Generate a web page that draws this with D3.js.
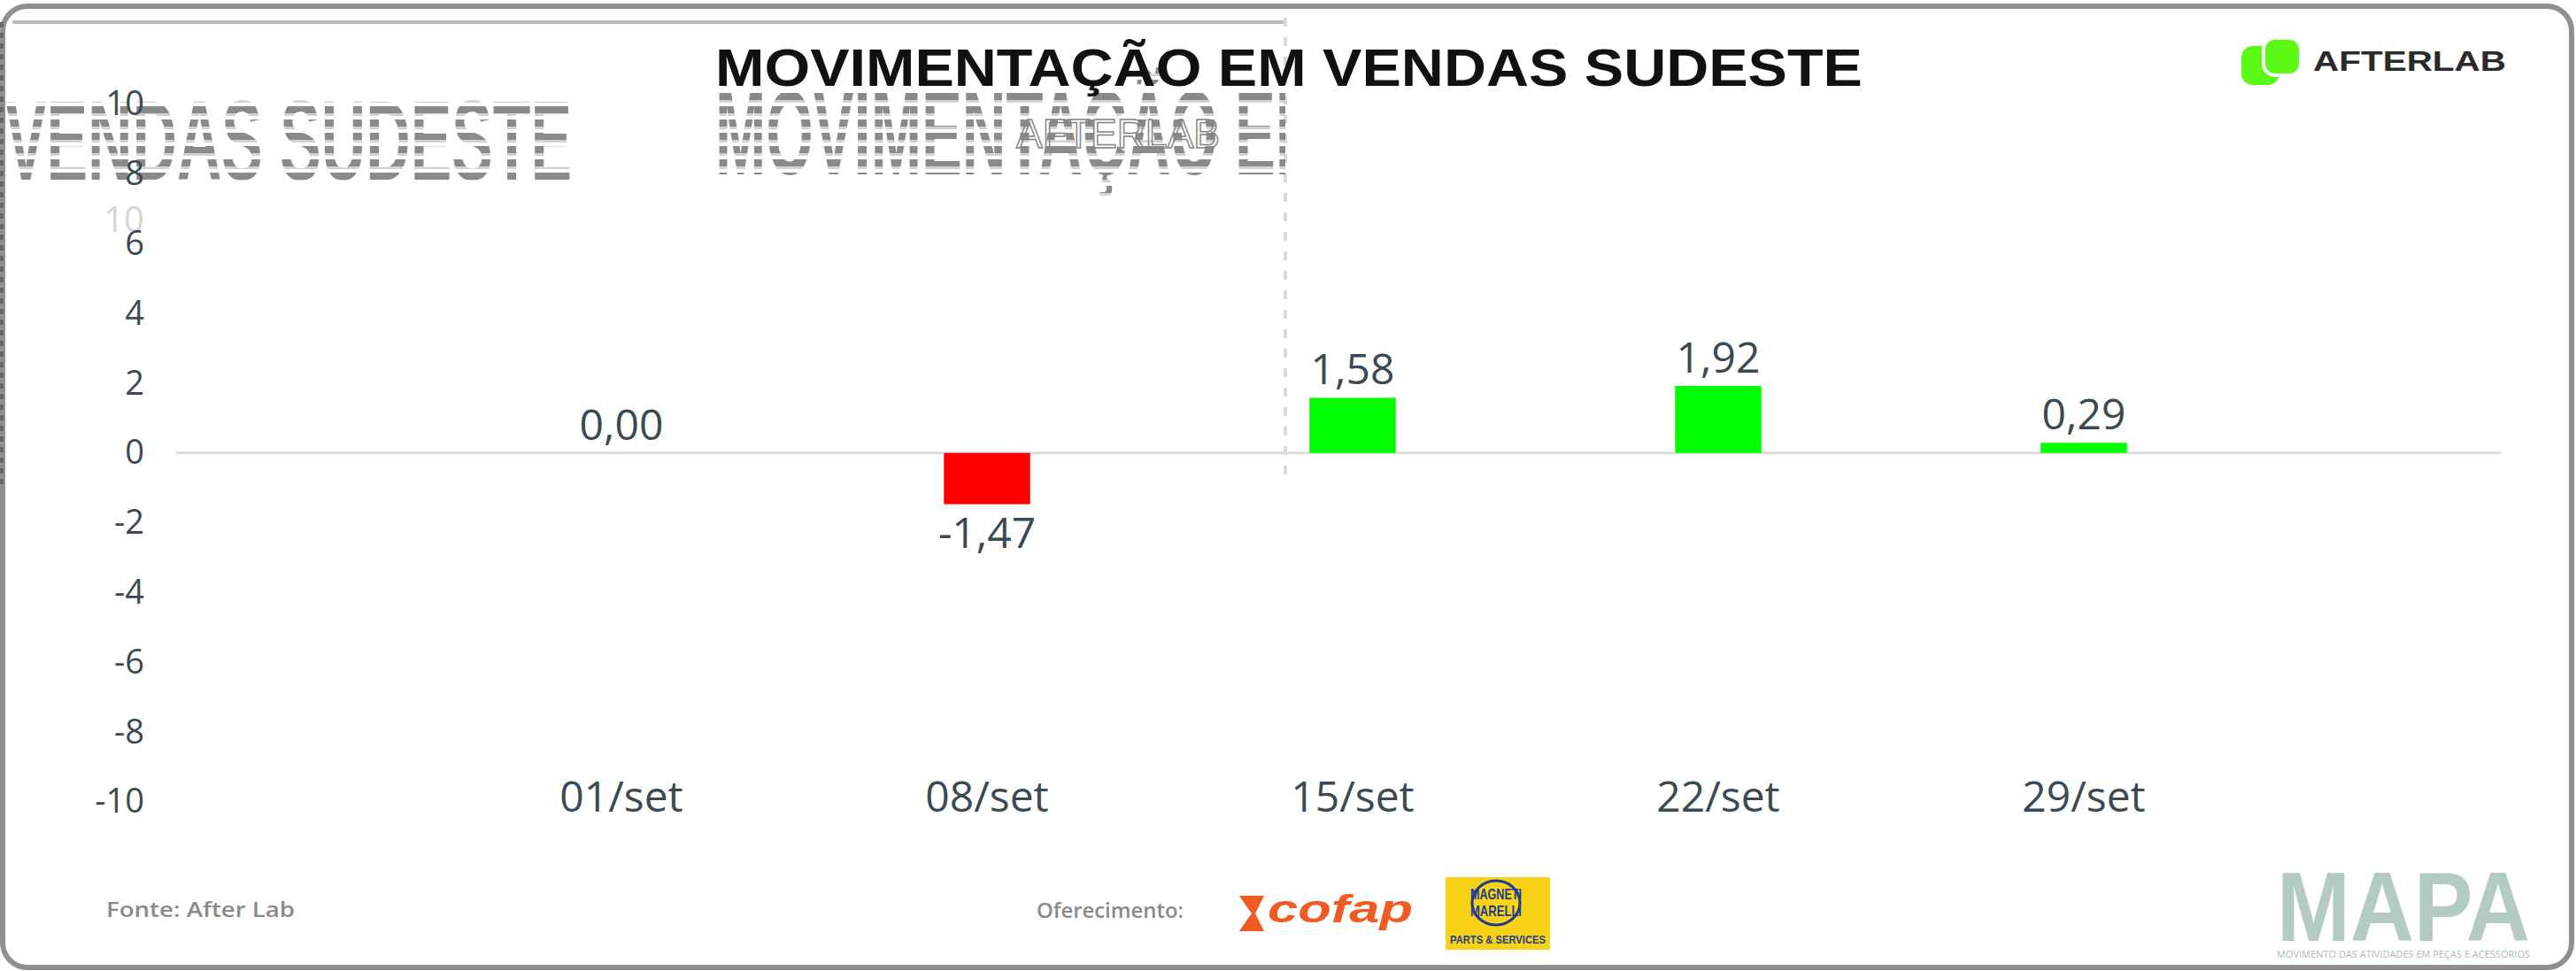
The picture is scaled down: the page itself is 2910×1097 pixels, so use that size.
<!DOCTYPE html>
<meta charset="utf-8">
<head>
  <title>Movimentação em vendas Sudeste</title>
  <script src="https://cdn.jsdelivr.net/npm/d3@7"></script>
  <style>
    body { margin: 0; background: #fff; }
    svg { display: block; }
    text { font-family: "Open Sans", sans-serif; }
  </style>
</head>
<body>
<svg width="2910" height="1097"></svg>
<script>

  // dados
  var semanas = ["01/set", "08/set", "15/set", "22/set", "29/set"];
  var variacao = [0.00, -1.47, 1.58, 1.92, 0.29];
  var yTicks = [-10, -8, -6, -4, -2, 0, 2, 4, 6, 8, 10];

  var titulo = "MOVIMENTAÇÃO EM VENDAS SUDESTE";
  var fonte = "Fonte: After Lab";

  var txtCor = "#3b4a51";

  var svg = d3.select("svg");

  var br = d3.formatLocale({decimal: ",", thousands: ".", grouping: [3], currency: ["R$", ""], minus: "-"});
  var fmt = br.format(".2f");

  // listras para o "fantasma" do título
  var defs = svg.append("defs");
  var pat = defs.append("pattern")
    .attr("id", "listras")
    .attr("patternUnits", "userSpaceOnUse")
    .attr("width", 10).attr("height", 15);
  pat.append("rect").attr("width", 10).attr("height", 8).attr("fill", "#6e6e6e");
  pat.append("rect").attr("y", 8).attr("width", 10).attr("height", 3).attr("fill", "#c8c8c8");

  defs.append("clipPath").attr("id", "caixa")
    .append("rect").attr("x", 0).attr("y", 20).attr("width", 1452).attr("height", 527);

  // moldura
  svg.append("rect")
    .attr("x", 3).attr("y", 7)
    .attr("width", 2902).attr("height", 1086)
    .attr("rx", 28)
    .attr("fill", "none")
    .attr("stroke", "#8f8f8f")
    .attr("stroke-width", 6);

  svg.append("line")
    .attr("x1", 14).attr("x2", 1452).attr("y1", 25).attr("y2", 25)
    .attr("stroke", "#bdbdbd").attr("stroke-width", 4);

  svg.append("line")
    .attr("x1", 2).attr("x2", 2).attr("y1", 25).attr("y2", 547)
    .attr("stroke", "#666").attr("stroke-width", 4)
    .attr("stroke-dasharray", "6,6");

  svg.append("line")
    .attr("x1", 1452).attr("x2", 1452).attr("y1", 20).attr("y2", 545)
    .attr("stroke", "#d9d9d9").attr("stroke-width", 4)
    .attr("stroke-dasharray", "10,12");

  // texto fantasma
  var ghost = svg.append("g").attr("clip-path", "url(#caixa)").attr("opacity", 0.8);

  ghost.append("text")
    .attr("x", 808).attr("y", 197)
    .attr("textLength", 690)
    .attr("lengthAdjust", "spacingAndGlyphs")
    .style("font-family", "'Liberation Sans', Arial, sans-serif")
    .style("font-weight", "bold")
    .style("font-size", "136px")
    .attr("fill", "url(#listras)")
    .text("MOVIMENTAÇÃO EM");

  ghost.append("text")
    .attr("x", 6).attr("y", 203)
    .attr("textLength", 640)
    .attr("lengthAdjust", "spacingAndGlyphs")
    .style("font-family", "'Liberation Sans', Arial, sans-serif")
    .style("font-weight", "bold")
    .style("font-size", "128px")
    .attr("fill", "url(#listras)")
    .text("VENDAS SUDESTE");

  ghost.append("text")
    .attr("x", 1148).attr("y", 167)
    .attr("textLength", 230)
    .attr("lengthAdjust", "spacingAndGlyphs")
    .style("font-family", "'Liberation Sans', Arial, sans-serif")
    .style("font-size", "46px")
    .attr("fill", "none")
    .attr("stroke", "#666")
    .attr("stroke-width", 1.5)
    .text("AFTERLAB");

  svg.append("text")
    .attr("x", 163).attr("y", 262)
    .attr("text-anchor", "end")
    .style("font-size", "40px")
    .attr("fill", "#d6d6d6")
    .text("10");

  // título
  svg.append("text")
    .attr("x", 808).attr("y", 97)
    .attr("textLength", 1296)
    .attr("lengthAdjust", "spacingAndGlyphs")
    .style("font-family", "'Liberation Sans', Arial, sans-serif")
    .style("font-weight", "bold")
    .style("font-size", "60px")
    .attr("fill", "#111")
    .text(titulo);

  // escalas
  var x = d3.scaleBand()
    .domain(semanas)
    .range([495.5, 2560.5])
    .paddingInner(0.764)
    .paddingOuter(0.382);

  var y = d3.scaleLinear()
    .domain([-10, 10])
    .range([905.7, 117.7]);

  // eixo y
  var yAxis = svg.append("g")
    .attr("transform", "translate(199,0)")
    .call(d3.axisLeft(y).tickValues(yTicks).tickSize(0).tickPadding(36).tickFormat(function(d) { return String(d); }));
  yAxis.select(".domain").remove();
  yAxis.selectAll("text")
    .style("font-family", "'Open Sans', sans-serif")
    .style("font-size", "38px")
    .attr("fill", txtCor);

  // linha do zero
  svg.append("line")
    .attr("x1", 199).attr("x2", 2825)
    .attr("y1", y(0)).attr("y2", y(0))
    .attr("stroke", "#d3e0dc")
    .attr("stroke-width", 3);

  // barras
  var dados = semanas.map(function(s, i) { return {semana: s, valor: variacao[i]}; });

  svg.selectAll("rect.barra")
    .data(dados)
    .enter()
    .append("rect")
      .attr("class", "barra")
      .attr("x", function(d) { return x(d.semana); })
      .attr("width", x.bandwidth())
      .attr("y", function(d) { return y(Math.max(0, d.valor)); })
      .attr("height", function(d) { return Math.abs(y(d.valor) - y(0)); })
      .attr("fill", function(d) { return d.valor < 0 ? "#ff0000" : "#00ff00"; });

  svg.selectAll("text.rotulo")
    .data(dados)
    .enter()
    .append("text")
      .attr("class", "rotulo")
      .attr("x", function(d) { return x(d.semana) + x.bandwidth() / 2; })
      .attr("y", function(d) { return d.valor < 0 ? y(d.valor) + 49 : y(d.valor) - 15; })
      .attr("text-anchor", "middle")
      .style("font-size", "48px")
      .attr("fill", txtCor)
      .text(function(d) { return fmt(d.valor); });

  // eixo x
  var xAxis = svg.append("g")
    .attr("transform", "translate(0,917)")
    .call(d3.axisBottom(x).tickSize(0));
  xAxis.select(".domain").remove();
  xAxis.selectAll("text")
    .attr("y", 0).attr("dy", 0)
    .style("font-family", "'Open Sans', sans-serif")
    .style("font-size", "48px")
    .attr("fill", txtCor);

  // logo After Lab
  var logo = svg.append("g");
  logo.append("rect")
    .attr("x", 2532).attr("y", 52).attr("width", 43).attr("height", 44)
    .attr("rx", 13).attr("fill", "#5cf816");
  logo.append("rect")
    .attr("x", 2557).attr("y", 43).attr("width", 42).attr("height", 42)
    .attr("rx", 13).attr("fill", "#5cf816")
    .attr("stroke", "#fff").attr("stroke-width", 4);
  logo.append("text")
    .attr("x", 2613).attr("y", 80)
    .attr("textLength", 218)
    .attr("lengthAdjust", "spacingAndGlyphs")
    .style("font-family", "'Liberation Sans', Arial, sans-serif")
    .style("font-weight", "bold")
    .style("font-size", "32px")
    .attr("fill", "#2a2a2a")
    .text("AFTERLAB");

  // rodapé
  svg.append("text")
    .attr("x", 120).attr("y", 1036)
    .attr("textLength", 213)
    .attr("lengthAdjust", "spacingAndGlyphs")
    .style("font-size", "24px")
    .style("font-weight", "600")
    .attr("fill", "#8a8a8a")
    .text(fonte);

  svg.append("text")
    .attr("x", 1171).attr("y", 1037)
    .attr("textLength", 166)
    .attr("lengthAdjust", "spacingAndGlyphs")
    .style("font-size", "24px")
    .style("font-weight", "600")
    .attr("fill", "#8a8a8a")
    .text("Oferecimento:");

  // cofap
  svg.append("path")
    .attr("d", "M1400,1012 L1428,1012 L1418,1032 L1428,1052 L1400,1052 L1408,1040 L1414,1032 L1408,1024 Z")
    .attr("fill", "#f15a22");
  svg.append("text")
    .attr("x", 1432).attr("y", 1042)
    .attr("textLength", 164)
    .attr("lengthAdjust", "spacingAndGlyphs")
    .style("font-family", "'Liberation Sans', Arial, sans-serif")
    .style("font-weight", "bold")
    .style("font-style", "italic")
    .style("font-size", "44px")
    .attr("fill", "#f15a22")
    .text("cofap");

  // Magneti Marelli
  var mm = svg.append("g");
  mm.append("rect")
    .attr("x", 1633).attr("y", 991).attr("width", 118).attr("height", 82)
    .attr("fill", "#f8d216");
  mm.append("ellipse")
    .attr("cx", 1690).attr("cy", 1020).attr("rx", 27).attr("ry", 25)
    .attr("fill", "none").attr("stroke", "#1d3c8f").attr("stroke-width", 3);
  mm.append("text")
    .attr("x", 1690).attr("y", 1016).attr("text-anchor", "middle")
    .attr("textLength", 58).attr("lengthAdjust", "spacingAndGlyphs")
    .style("font-family", "'Liberation Sans', Arial, sans-serif")
    .style("font-weight", "bold").style("font-size", "17px")
    .attr("fill", "#1d3c8f").text("MAGNETI");
  mm.append("text")
    .attr("x", 1690).attr("y", 1035).attr("text-anchor", "middle")
    .attr("textLength", 58).attr("lengthAdjust", "spacingAndGlyphs")
    .style("font-family", "'Liberation Sans', Arial, sans-serif")
    .style("font-weight", "bold").style("font-size", "17px")
    .attr("fill", "#1d3c8f").text("MARELLI");
  mm.append("text")
    .attr("x", 1692).attr("y", 1066).attr("text-anchor", "middle")
    .attr("textLength", 108).attr("lengthAdjust", "spacingAndGlyphs")
    .style("font-family", "'Liberation Sans', Arial, sans-serif")
    .style("font-weight", "bold").style("font-size", "12px")
    .attr("fill", "#1d3c8f").text("PARTS & SERVICES");

  // MAPA
  svg.append("text")
    .attr("x", 2572).attr("y", 1063)
    .attr("textLength", 286)
    .attr("lengthAdjust", "spacingAndGlyphs")
    .style("font-family", "'Liberation Sans', Arial, sans-serif")
    .style("font-weight", "bold")
    .style("font-size", "112px")
    .attr("fill", "#b3cbc4")
    .text("MAPA");
  svg.append("text")
    .attr("x", 2572).attr("y", 1082)
    .attr("textLength", 286)
    .attr("lengthAdjust", "spacingAndGlyphs")
    .style("font-size", "11px")
    .attr("fill", "#a9bdb7")
    .text("MOVIMENTO DAS ATIVIDADES EM PEÇAS E ACESSÓRIOS");

</script>
</body>
</html>
